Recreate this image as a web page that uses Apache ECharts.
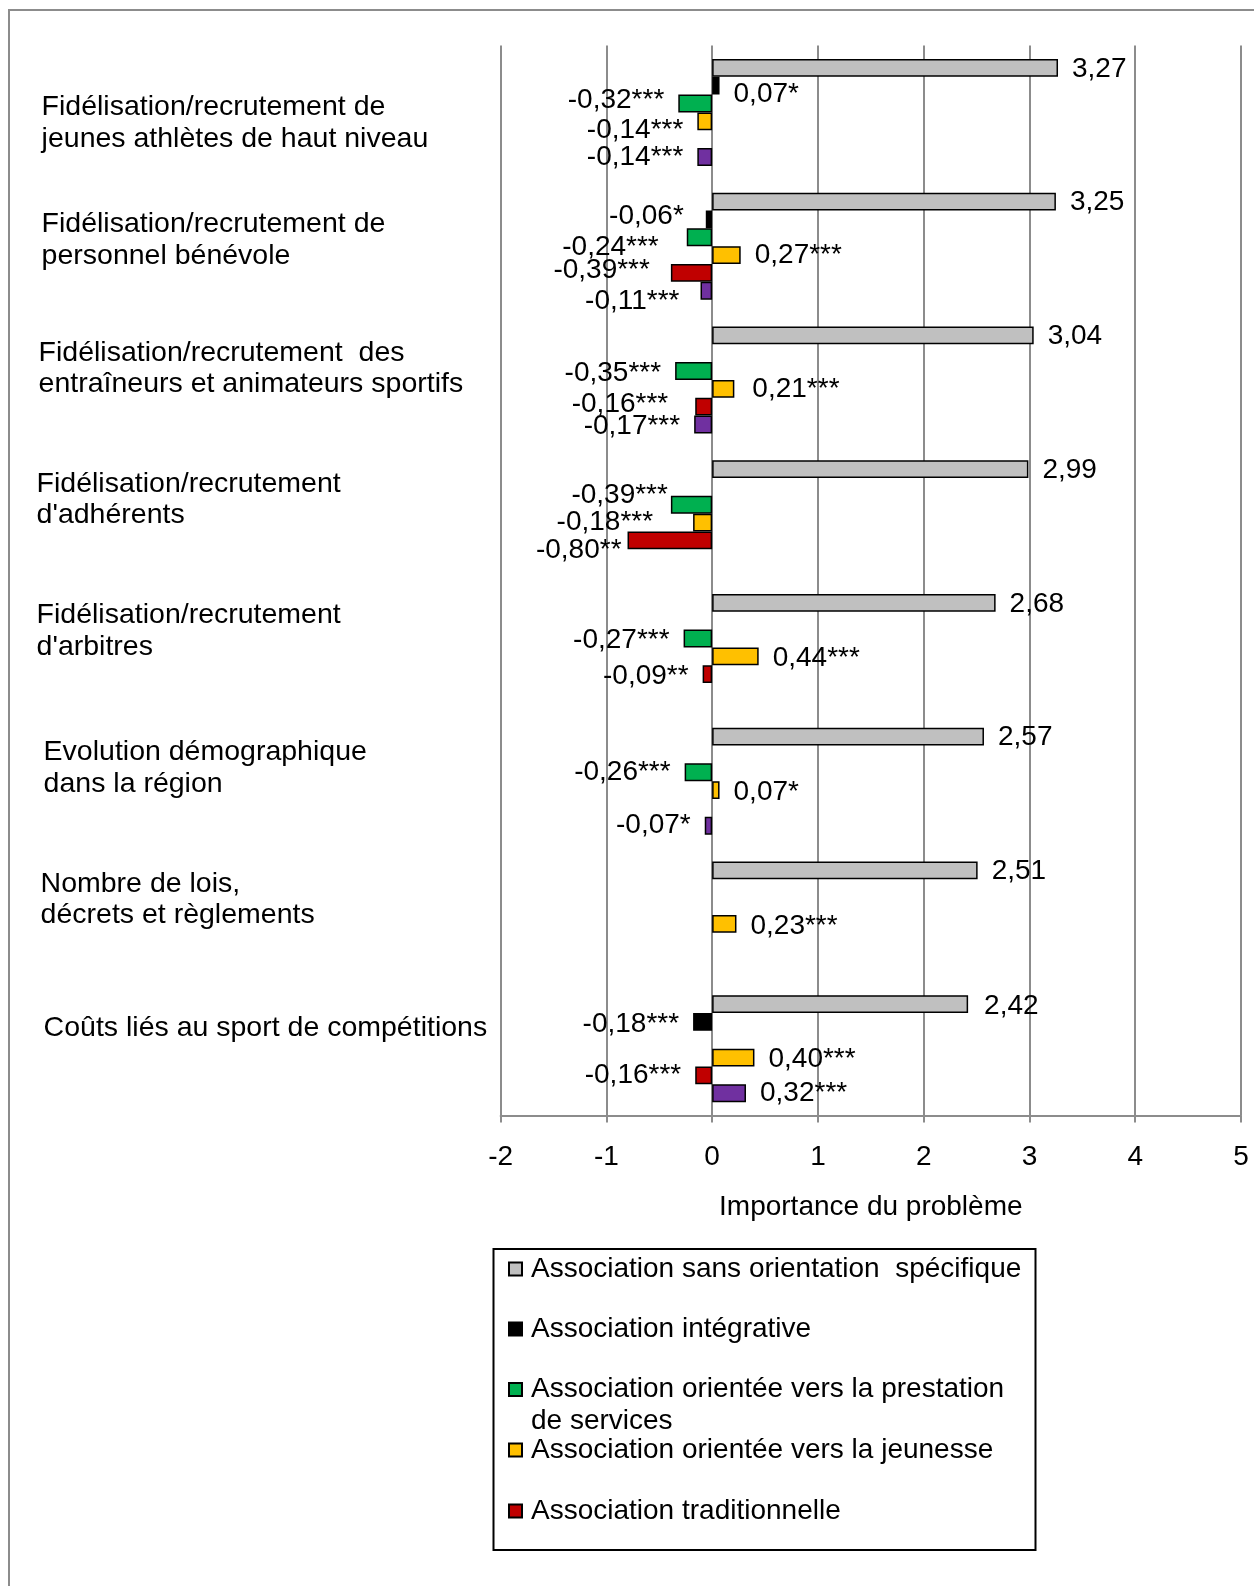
<!DOCTYPE html>
<html>
<head>
<meta charset="utf-8">
<script src="https://cdn.jsdelivr.net/npm/echarts@6/dist/echarts.min.js"></script>
<style>html,body{margin:0;padding:0;background:#fff}#c{width:1254px;height:1586px}</style>
</head>
<body>
<div id="c"></div>
<script>
const categories = [
  'Fidélisation/recrutement de\njeunes athlètes de haut niveau',
  'Fidélisation/recrutement de\npersonnel bénévole',
  'Fidélisation/recrutement  des\nentraîneurs et animateurs sportifs',
  "Fidélisation/recrutement\nd'adhérents",
  "Fidélisation/recrutement\nd'arbitres",
  'Evolution démographique\ndans la région',
  'Nombre de lois,\ndécrets et règlements',
  'Coûts liés au sport de compétitions'
];
const xTicks = [-2, -1, 0, 1, 2, 3, 4, 5];

const seriesNames = [
  'Association sans orientation  spécifique',
  'Association intégrative',
  'Association orientée vers la prestation de services',
  'Association orientée vers la jeunesse',
  'Association traditionnelle',
  'Autre association'
];
const sansOrientation = [3.27, 3.25, 3.04, 2.99, 2.68, 2.57, 2.51, 2.42];
const sansOrientationSig = ['', '', '', '', '', '', '', ''];
const integrative = [0.07, -0.06, null, null, null, null, null, -0.18];
const integrativeSig = ['*', '*', '', '', '', '', '', '***'];
const prestation = [-0.32, -0.24, -0.35, -0.39, -0.27, -0.26, null, null];
const prestationSig = ['***', '***', '***', '***', '***', '***', '', ''];
const jeunesse = [-0.14, 0.27, 0.21, -0.18, 0.44, 0.07, 0.23, 0.40];
const jeunesseSig = ['***', '***', '***', '***', '***', '*', '***', '***'];
const traditionnelle = [null, -0.39, -0.16, -0.80, -0.09, null, null, -0.16];
const traditionnelleSig = ['', '***', '***', '**', '**', '', '', '***'];
const autre = [-0.14, -0.11, -0.17, null, null, -0.07, null, 0.32];
const autreSig = ['***', '***', '***', '', '', '*', '', '***'];

// ---- layout / style (not data) ----
const colors = ['#C0C0C0', '#000000', '#00B050', '#FFC000', '#C00000', '#7030A0'];
const FONT = 'Liberation Sans, Arial, sans-serif';
const FS = 28;
const FS_CAT = 28.5;
// category label shift [dx, dy] (Excel-like manual placement)
const catLabelShift = [[5, 11], [5, -6], [2, -11], [0, -14], [0, -16], [7, -13], [4, -15], [7, -20]];
// value label nudges [dx, dy] per series per category
const nudgeGrey = [[0,1],[0,1],[0,1],[0,1],[0,1],[0,1],[0,1],[2,2]];
const nudgeBlack = [[0,9],[-8,-3],[0,0],[0,0],[0,0],[0,0],[0,0],[0,2]];
const nudgeGreen = [[0,-3],[-14,10],[0,2],[11,-9],[0,2],[0,0],[0,0],[0,0]];
const nudgeYellow = [[0,9],[0,0],[4,0],[-26,0],[0,2],[0,2],[0,2],[0,2]];
const nudgeRed = [[0,0],[-7,-3],[-13,-2],[8,10],[0,2],[0,0],[0,0],[0,0]];
const nudgePurple = [[0,0],[-7,11],[0,2],[0,0],[0,0],[0,0],[0,0],[0,0]];

const allValues = [sansOrientation, integrative, prestation, jeunesse, traditionnelle, autre];
const allSig = [sansOrientationSig, integrativeSig, prestationSig, jeunesseSig, traditionnelleSig, autreSig];
const allNudge = [nudgeGrey, nudgeBlack, nudgeGreen, nudgeYellow, nudgeRed, nudgePurple];

function fmt(v, s) { return v.toFixed(2).replace('.', ',') + s; }

const series = allValues.map((vals, si) => ({
  name: seriesNames[si],
  type: 'bar',
  barGap: '0%',
  barCategoryGap: '20%',
  itemStyle: { color: colors[si], borderColor: '#000', borderWidth: 1.5 },
  label: {
    show: true, fontSize: FS, color: '#000', fontFamily: FONT,
    formatter: p => fmt(vals[p.dataIndex], allSig[si][p.dataIndex])
  },
  data: vals.map((v, ci) => v === null ? '-' : {
    value: v,
    label: {
      position: v >= 0 ? 'right' : 'left',
      distance: 14,
      offset: allNudge[si][ci]
    }
  })
}));

const rich = {};
catLabelShift.forEach(([dx, dy], i) => {
  rich['t' + i] = { fontSize: FS_CAT, lineHeight: 31.5, color: '#000', fontFamily: FONT, padding: [0, 0, 0, dx], align: 'left' };
  rich['s' + i] = { fontSize: 2, lineHeight: Math.max(2, 2 * Math.abs(dy)) };
});

const yData = categories.map(c => ({ value: c, textStyle: { align: 'left' } }));

const legendCenters = [1267, 1327, 1387.5, 1448, 1509];
const legends = legendCenters.map((cy, i) => {
  const two = i === 2;
  return {
    data: [seriesNames[i]],
    left: 503,
    top: two ? cy - 51 : cy - 19,
    orient: 'vertical',
    icon: 'rect',
    itemWidth: 13, itemHeight: 13,
    selectedMode: false,
    formatter: two ? () => ' \nAssociation orientée vers la prestation\nde services' : '{name}',
    textStyle: {
      fontSize: FS, color: '#000', fontFamily: FONT, lineHeight: 32,
      padding: [0, 0, 0, 4]
    }
  };
});

const chart = echarts.init(document.getElementById('c'), null, { renderer: 'canvas' });
chart.setOption({
  animation: false,
  backgroundColor: '#fff',
  textStyle: { fontFamily: FONT },
  grid: { left: 500.6, right: 13, top: 45.5, bottom: 470.5, containLabel: false, outerBoundsMode: 'none' },
  xAxis: {
    type: 'value', min: xTicks[0], max: xTicks[xTicks.length - 1], interval: 1,
    name: 'Importance du problème', nameLocation: 'middle', nameGap: 78,
    nameTextStyle: { fontSize: FS, color: '#000', fontFamily: FONT },
    axisLine: { show: true, lineStyle: { color: '#8c8c8c', width: 2 } },
    axisTick: { show: true, length: 7, lineStyle: { color: '#8c8c8c', width: 2 } },
    axisLabel: { fontSize: FS, color: '#000', margin: 28, fontFamily: FONT },
    splitLine: { show: true, lineStyle: { color: '#8c8c8c', width: 2 } }
  },
  yAxis: {
    type: 'category', inverse: true, data: yData,
    axisLine: { show: false }, axisTick: { show: false },
    axisLabel: {
      align: 'left', margin: 464, fontSize: FS_CAT, lineHeight: 31.5, color: '#000', fontFamily: FONT,
      formatter: (value, idx) => {
        const dy = catLabelShift[idx][1];
        const lines = String(value).split('\n').map(l => '{t' + idx + '|' + l + '}');
        const sp = '{s' + idx + '| }';
        if (dy > 0) lines.unshift(sp); else if (dy < 0) lines.push(sp);
        return lines.join('\n');
      },
      rich: rich
    }
  },
  legend: legends,
  series: series,
  graphic: [
    { type: 'rect', shape: { x: 9, y: 10, width: 1400, height: 1700 }, style: { fill: 'none', stroke: '#8c8c8c', lineWidth: 2 }, silent: true, z: -1 },
    { type: 'rect', shape: { x: 493.5, y: 1249, width: 542, height: 301 }, style: { fill: 'none', stroke: '#000', lineWidth: 2 }, silent: true }
  ]
});
</script>
</body>
</html>
